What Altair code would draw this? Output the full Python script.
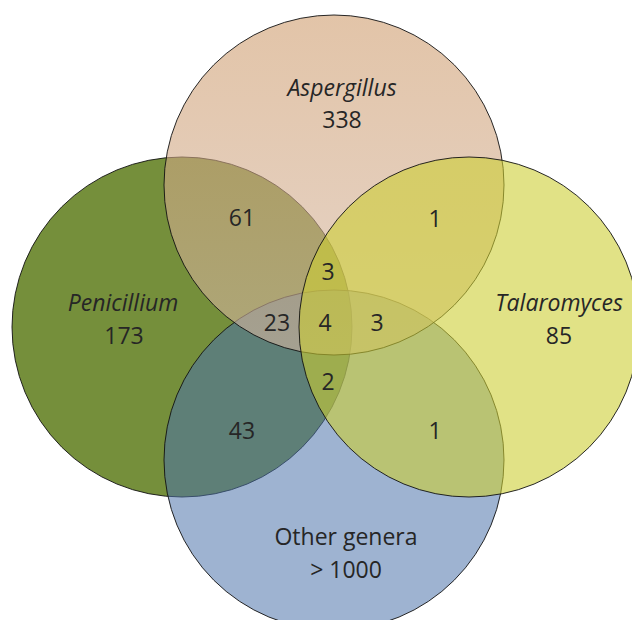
import altair as alt
import pandas as pd

# ---------------- data ----------------
set_names = ["Penicillium", "Other genera", "Aspergillus", "Talaromyces"]
set_counts = ["173", "> 1000", "338", "85"]
set_italic = [True, False, True, True]

overlap_keys = ["A&P", "A&T", "A&P&T", "A&P&O", "A&P&T&O", "A&T&O", "P&T&O", "P&O", "T&O"]
overlap_counts = [61, 1, 3, 23, 4, 3, 2, 43, 1]

# ---------------- layout (page pixels) ----------------
circle_cx = [182, 334, 334, 469]
circle_cy = [327, 460, 185, 327]
radius = 170
name_xy = [(123, 304), (346, 538), (342, 89), (559, 304)]
count_xy = [(124, 337), (346, 571), (342, 121), (559, 337)]
overlap_xy = [(242, 219), (435, 220), (328, 273), (277, 324), (325, 324),
              (377, 324), (328, 383), (242, 432), (435, 432)]

# ---------------- styles ----------------
asp_gradient = alt.LinearGradient(
    gradient="linear", x1=0, y1=0, x2=0, y2=1,
    stops=[alt.GradientStop(offset=0, color="#CF9D6E"),
           alt.GradientStop(offset=1, color="#D4B7A3")])
fills = ["#758F3B", "#4B72AA", asp_gradient, "#CCCE32"]
fill_opacity = [1.0, 0.54, 0.6, 0.59]

# page is 640x628 with an 8px margin -> drawing area 624x612 starting at (8, 8)
M = 8
W, H = 640 - 2 * M, 628 - 2 * M
xs = alt.Scale(domain=[M, M + W], range=[0, W], nice=False, zero=False)
ys = alt.Scale(domain=[M, M + H], range=[0, H], nice=False, zero=False)

layers = []
for i, name in enumerate(set_names):
    df = pd.DataFrame({"set": [name], "x": [circle_cx[i]], "y": [circle_cy[i]]})
    layers.append(
        alt.Chart(df).mark_circle(
            size=(2 * radius) ** 2, fill=fills[i], fillOpacity=fill_opacity[i],
            stroke="#111111", strokeWidth=1, strokeOpacity=0.9
        ).encode(x=alt.X("x:Q", scale=xs, axis=None), y=alt.Y("y:Q", scale=ys, axis=None))
    )

text_style = dict(font="Open Sans", fontSize=23, color="#262626", align="center", baseline="middle")

italic_df = pd.DataFrame({
    "label": [n for n, it in zip(set_names, set_italic) if it],
    "x": [p[0] for p, it in zip(name_xy, set_italic) if it],
    "y": [p[1] for p, it in zip(name_xy, set_italic) if it],
})
normal_rows = {
    "label": [n for n, it in zip(set_names, set_italic) if not it] + set_counts + [str(c) for c in overlap_counts],
    "x": [p[0] for p, it in zip(name_xy, set_italic) if not it] + [p[0] for p in count_xy] + [p[0] for p in overlap_xy],
    "y": [p[1] for p, it in zip(name_xy, set_italic) if not it] + [p[1] for p in count_xy] + [p[1] for p in overlap_xy],
}
normal_df = pd.DataFrame(normal_rows)

for df, style in [(italic_df, "italic"), (normal_df, "normal")]:
    layers.append(
        alt.Chart(df).mark_text(fontStyle=style, **text_style).encode(
            x=alt.X("x:Q", scale=xs, axis=None),
            y=alt.Y("y:Q", scale=ys, axis=None),
            text="label:N",
        )
    )

chart = alt.layer(*layers).properties(
    width=W, height=H, autosize=alt.AutoSizeParams(type="none"), padding=0
).configure_view(stroke=None)

chart.save("out.html", embed_options={"renderer": "svg", "actions": False})
